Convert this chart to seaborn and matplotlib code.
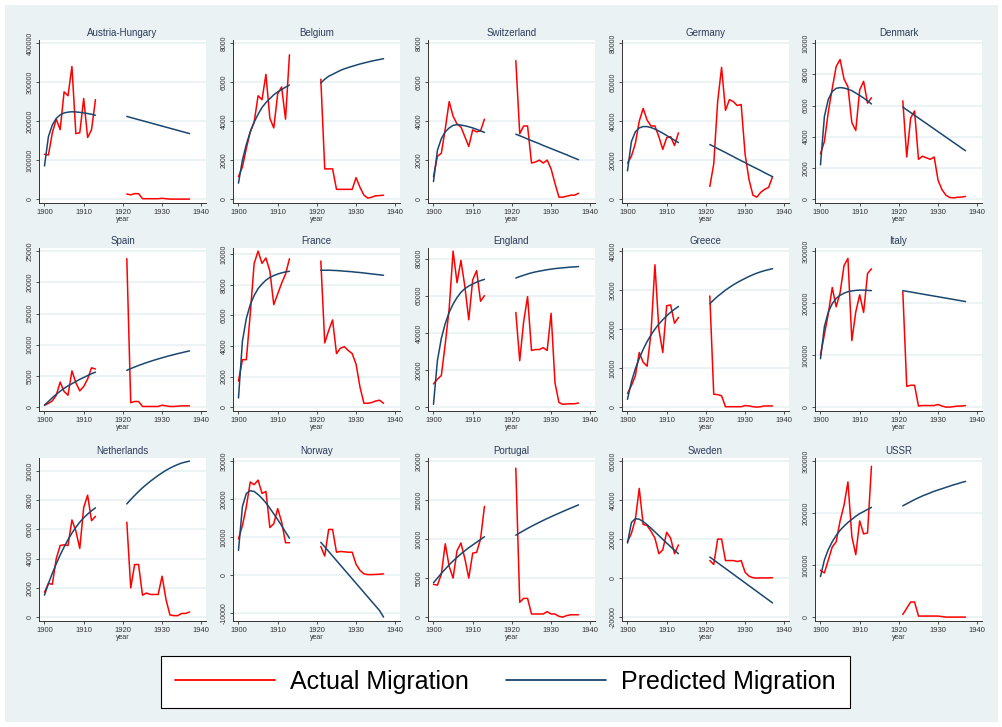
import numpy as np
import pandas as pd
import matplotlib
matplotlib.use("Agg")
import matplotlib.pyplot as plt
import seaborn as sns
from matplotlib.lines import Line2D
from matplotlib.patches import Rectangle

sns.set_theme(style="white")
plt.rcParams["font.family"] = ["Liberation Sans", "DejaVu Sans"]

years = list(range(1900, 1914)) + list(range(1921, 1938))

# actual / predicted migration, 1900-1913 then 1921-1937
austria_act = [115000, 113000, 170000, 205000, 178000, 275000, 265000, 340000, 168000, 170000, 258000, 158000, 178000, 255000,
               13000, 11000, 14000, 14000, 1000, 1000, 1000, 1000, 1000, 2000, 1000, 0, 0, 0, 0, 0, 0]
austria_pred = [85000, 160000, 190000, 207000, 216000, 221000, 223000, 224000, 223500, 222500, 221000, 219500, 217500, 215000,
                212000, 209200, 206500, 203700, 201000, 198200, 195500, 192700, 190000, 187200, 184500, 181700, 179000, 176200, 173500, 170700, 168000]

belgium_act = [1150, 1650, 2600, 3450, 3950, 5300, 5100, 6400, 4150, 3650, 5400, 5750, 4100, 7400,
               6150, 1550, 1550, 1550, 500, 500, 500, 500, 500, 1100, 600, 200, 50, 100, 170, 180, 200]
belgium_pred = [820, 2000, 2800, 3450, 3950, 4350, 4700, 4950, 5150, 5350, 5500, 5620, 5740, 5850,
                5950, 6150, 6300, 6400, 6500, 6600, 6680, 6750, 6810, 6870, 6930, 6980, 7030, 7080, 7120, 7160, 7200]

swiss_act = [1150, 2200, 2350, 3600, 5000, 4250, 3850, 3700, 3200, 2700, 3550, 3450, 3500, 4100,
             7100, 3350, 3750, 3750, 1850, 1900, 2000, 1850, 2000, 1550, 800, 100, 100, 150, 200, 200, 300]
swiss_pred = [900, 2500, 3100, 3450, 3650, 3780, 3820, 3800, 3760, 3710, 3650, 3580, 3500, 3420,
              3330, 3250, 3170, 3080, 3000, 2920, 2840, 2750, 2670, 2590, 2510, 2430, 2350, 2270, 2180, 2100, 2020]

germany_act = [18500, 22000, 28500, 40000, 46500, 40500, 37500, 37500, 32000, 25500, 31500, 32000, 27500, 34000,
               6500, 18000, 50000, 67500, 45500, 51000, 50000, 48000, 48500, 23000, 10000, 2000, 1000, 3500, 5000, 6000, 11500]
germany_pred = [14500, 29500, 34500, 36500, 37200, 37200, 36700, 35900, 34900, 33800, 32600, 31400, 30200, 29000,
                28000, 27000, 25900, 24900, 23900, 22800, 21800, 20700, 19700, 18700, 17600, 16600, 15600, 14600, 13500, 12500, 11500]

denmark_act = [2900, 3700, 5600, 7100, 8500, 8950, 7700, 7200, 4900, 4400, 7000, 7550, 6150, 6500,
               6300, 2700, 5200, 5650, 2550, 2750, 2650, 2550, 2700, 1200, 600, 250, 100, 80, 120, 130, 170]
denmark_pred = [2200, 5300, 6400, 6900, 7100, 7150, 7120, 7050, 6950, 6800, 6650, 6480, 6300, 6100,
                5900, 5720, 5550, 5370, 5200, 5020, 4850, 4670, 4500, 4320, 4150, 3970, 3800, 3620, 3450, 3270, 3100]

spain_act = [300, 600, 1000, 1900, 4000, 2500, 1900, 5800, 3900, 2600, 3300, 4500, 6300, 6100,
             23800, 700, 900, 900, 100, 100, 100, 100, 100, 300, 200, 100, 100, 150, 200, 200, 200]
spain_pred = [300, 900, 1500, 2050, 2550, 3000, 3400, 3750, 4100, 4450, 4750, 5050, 5350, 5600,
              5900, 6170, 6430, 6670, 6900, 7120, 7330, 7530, 7720, 7900, 8080, 8250, 8410, 8570, 8720, 8870, 9010]

france_act = [1700, 3100, 3100, 6100, 9400, 10200, 9400, 9750, 8900, 6700, 7400, 8100, 8700, 9700,
              9550, 4200, 5000, 5700, 3500, 3850, 3950, 3700, 3500, 2800, 1300, 250, 250, 300, 400, 450, 250]
france_pred = [600, 4300, 5800, 6700, 7300, 7750, 8050, 8300, 8480, 8600, 8700, 8780, 8840, 8880,
               8950, 8950, 8950, 8940, 8930, 8910, 8890, 8870, 8850, 8820, 8800, 8770, 8740, 8710, 8680, 8650, 8620]

england_act = [12500, 15000, 17000, 34000, 53000, 84000, 67000, 79000, 65000, 47000, 68500, 73500, 57000, 60000,
               51000, 25000, 46000, 59500, 30500, 31000, 31000, 32000, 30500, 50500, 13000, 2500, 1500, 1700, 1800, 1800, 2200]
england_pred = [1500, 25000, 37000, 45000, 51000, 55500, 59000, 61800, 63800, 65200, 66300, 67300, 68100, 68800,
                69500, 70300, 71000, 71700, 72300, 72800, 73200, 73600, 74000, 74300, 74600, 74800, 75000, 75200, 75400, 75500, 75700]

greece_act = [3500, 5500, 8000, 14000, 11500, 10500, 19000, 36500, 20000, 14000, 26000, 26200, 21500, 23000,
              28500, 3300, 3200, 2900, 100, 100, 100, 100, 100, 400, 300, 100, 0, 100, 300, 300, 300]
greece_pred = [2000, 6500, 9800, 12500, 14800, 16800, 18500, 20000, 21300, 22400, 23400, 24300, 25100, 25800,
               26500, 27500, 28400, 29200, 30000, 30700, 31350, 31950, 32500, 33000, 33500, 33950, 34350, 34700, 35000, 35250, 35500]

italy_act = [100000, 140000, 180000, 230000, 193000, 220000, 272000, 286000, 128000, 183000, 216000, 182000, 257000, 266000,
             222000, 40000, 42000, 42000, 2000, 3000, 3000, 3000, 3000, 5000, 2000, 0, 0, 1000, 2000, 2000, 3000]
italy_pred = [93000, 155000, 183000, 199000, 209000, 215000, 219000, 222000, 223500, 224500, 225000, 225000, 224500, 224000,
              224000, 222700, 221400, 220100, 218700, 217400, 216100, 214800, 213500, 212200, 210900, 209600, 208300, 207000, 205600, 204300, 203000]

nether_act = [1700, 2300, 2250, 4000, 4900, 4950, 4900, 6650, 5900, 4700, 7500, 8350, 6600, 6900,
              6500, 2000, 3600, 3600, 1500, 1650, 1550, 1550, 1550, 2800, 1200, 150, 100, 100, 250, 250, 350]
nether_pred = [1500, 2300, 3000, 3650, 4250, 4800, 5300, 5750, 6150, 6500, 6800, 7050, 7280, 7480,
               7750, 8050, 8330, 8600, 8850, 9080, 9300, 9500, 9700, 9880, 10050, 10200, 10330, 10450, 10550, 10620, 10680]

norway_act = [9500, 13000, 18000, 24500, 23800, 25000, 21500, 22000, 12500, 13500, 17500, 14000, 8500, 8500,
              7500, 5000, 12000, 12000, 6000, 6200, 6100, 6000, 6000, 2800, 1200, 300, 100, 100, 150, 200, 300]
norway_pred = [6500, 18000, 21500, 22200, 22000, 21200, 20200, 19000, 17600, 16100, 14600, 13000, 11300, 9700,
               8600, 7400, 6200, 5000, 3800, 2600, 1400, 200, -1000, -2200, -3400, -4600, -5800, -7000, -8200, -9400, -11100]

portugal_act = [4200, 4100, 5500, 9400, 6500, 5000, 8500, 9500, 7500, 5000, 8200, 8300, 10000, 14200,
                19100, 1900, 2400, 2400, 400, 400, 400, 400, 700, 400, 400, 100, 0, 200, 300, 300, 300]
portugal_pred = [4400, 5000, 5600, 6150, 6700, 7200, 7650, 8100, 8500, 8900, 9250, 9600, 9950, 10300,
                 10500, 10800, 11090, 11370, 11640, 11900, 12150, 12400, 12640, 12870, 13100, 13320, 13540, 13760, 13970, 14180, 14390]

sweden_act = [18500, 23000, 30000, 46000, 27500, 27000, 24000, 20500, 12500, 14500, 23500, 20500, 12500, 17000,
              9000, 7000, 20000, 20000, 9000, 9000, 9000, 8500, 9000, 3000, 1000, 200, 0, 100, 100, 100, 200]
sweden_pred = [18000, 28500, 30500, 30200, 29000, 27400, 25600, 23700, 21800, 19900, 18000, 16100, 14300, 12500,
               10800, 9330, 7860, 6390, 4920, 3450, 1980, 510, -960, -2430, -3900, -5370, -6840, -8310, -9780, -11250, -12720]

ussr_act = [90000, 85000, 110000, 135000, 145000, 185000, 215000, 260000, 155000, 120000, 185000, 160000, 162000, 290000,
            5000, 17000, 29000, 29000, 2000, 2000, 2000, 2000, 2000, 2000, 1000, 0, 0, 0, 0, 0, 0]
ussr_pred = [78000, 110000, 130000, 145000, 157000, 167000, 175000, 182000, 188000, 194000, 199000, 203000, 207000, 211000,
             214000, 218000, 222000, 226000, 229500, 233000, 236000, 239000, 242000, 244500, 247000, 249500, 252000, 254500, 256500, 259000, 261000]

countries = ["Austria-Hungary", "Belgium", "Switzerland", "Germany", "Denmark",
             "Spain", "France", "England", "Greece", "Italy",
             "Netherlands", "Norway", "Portugal", "Sweden", "USSR"]
actual = [austria_act, belgium_act, swiss_act, germany_act, denmark_act,
          spain_act, france_act, england_act, greece_act, italy_act,
          nether_act, norway_act, portugal_act, sweden_act, ussr_act]
predicted = [austria_pred, belgium_pred, swiss_pred, germany_pred, denmark_pred,
             spain_pred, france_pred, england_pred, greece_pred, italy_pred,
             nether_pred, norway_pred, portugal_pred, sweden_pred, ussr_pred]
yticks = [range(0, 400001, 100000), range(0, 8001, 2000), range(0, 8001, 2000), range(0, 80001, 20000), range(0, 10001, 2000),
          range(0, 25001, 5000), range(0, 10001, 2000), range(0, 80001, 20000), range(0, 40001, 10000), range(0, 300001, 100000),
          range(0, 10001, 2000), range(-10000, 30001, 10000), range(0, 20001, 5000), range(-20000, 60001, 20000), range(0, 300001, 100000)]

rows = []
for c, a, p in zip(countries, actual, predicted):
    for y, va, vp in zip(years, a, p):
        per = "pre" if y < 1920 else "post"
        rows.append((c, y, per, "Actual Migration", va))
        rows.append((c, y, per, "Predicted Migration", vp))
df = pd.DataFrame(rows, columns=["country", "year", "period", "series", "value"])

palette = {"Actual Migration": "#ff0000", "Predicted Migration": "#1a476f"}
bg = "#eaf2f3"

W, H = 1003, 727
fig = plt.figure(figsize=(W / 100, H / 100), dpi=100)
fig.patch.set_facecolor("white")
fig.patches.append(Rectangle((5 / W, 5 / H), 993 / W, 717 / H, transform=fig.transFigure,
                             facecolor=bg, edgecolor="none", zorder=-10))

col_left = [39, 233, 428, 622, 815]
row_top = [40, 248, 458]
pw, ph = 167, 163

for i, c in enumerate(countries):
    r, k = divmod(i, 5)
    ax = fig.add_axes([col_left[k] / W, 1 - (row_top[r] + ph) / H, pw / W, ph / H])
    sub = df[df.country == c]
    sns.lineplot(data=sub, x="year", y="value", hue="series", units="period", estimator=None,
                 palette=palette, lw=1.1, legend=False, ax=ax, sort=True)
    ax.set_facecolor("white")
    tk = list(yticks[i])
    lo = min(tk[0], sub.value.min())
    hi = max(tk[-1], sub.value.max())
    span = hi - lo
    ax.set_ylim(lo - 0.025 * span, hi + 0.02 * span)
    ax.set_xlim(1898.6, 1941.2)
    ax.set_yticks(tk)
    ax.set_yticklabels([str(t) for t in tk], rotation=90, va="center", fontsize=5, color="#333333")
    ax.set_xticks([1900, 1910, 1920, 1930, 1940])
    ax.set_xticklabels(["1900", "1910", "1920", "1930", "1940"], fontsize=5.5, color="#333333")
    ax.tick_params(axis="both", direction="out", length=2.5, width=0.6, color="#333333", pad=1.5,
                   left=True, bottom=True)
    for t in tk:
        ax.axhline(t, color=bg, lw=1.3, zorder=0)
    for s in ["top", "right"]:
        ax.spines[s].set_visible(False)
    for s in ["left", "bottom"]:
        ax.spines[s].set_color("#333333")
        ax.spines[s].set_linewidth(0.7)
    ax.set_xlabel("year", fontsize=5, color="#333333", labelpad=0)
    ax.set_ylabel("")
    ax.set_title(c, fontsize=7, color="#2d3b5a", pad=3)

handles = [Line2D([], [], color=palette["Actual Migration"], lw=1.3),
           Line2D([], [], color=palette["Predicted Migration"], lw=1.3)]
leg = fig.legend(handles, ["Actual Migration", "Predicted Migration"], loc="center",
                 bbox_to_anchor=(505.5 / W, 1 - 682 / H), ncol=2, fontsize=18, frameon=True,
                 fancybox=False, edgecolor="black", facecolor="white", framealpha=1,
                 handlelength=4.0, handletextpad=0.6, columnspacing=1.5, borderpad=0.55)
leg.get_frame().set_linewidth(0.8)
for t in leg.get_texts():
    t.set_color("black")

fig.savefig("out.png", dpi=100, facecolor=fig.get_facecolor())
